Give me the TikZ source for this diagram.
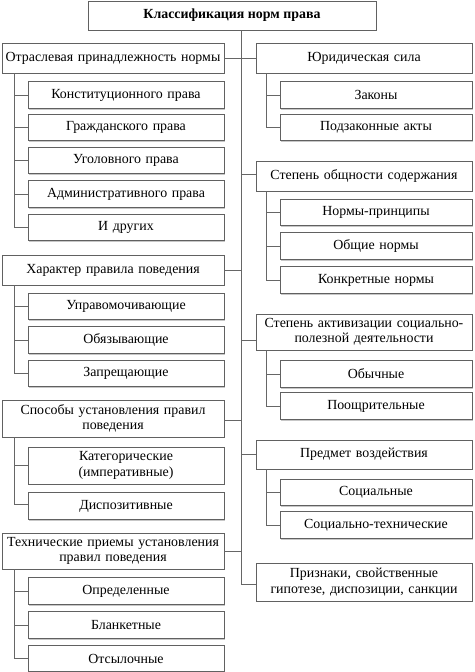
\documentclass[tikz,border=0pt]{standalone}
\usepackage{fontspec}
\setmainfont{Liberation Serif}
\usetikzlibrary{shadows,calc}
\begin{document}
\begin{tikzpicture}[x=1pt,y=1pt,
  box/.style={draw=black!62, line width=0.7pt, fill=white, text=black,
    inner sep=1pt, align=center, font=\fontsize{13.9}{15.2}\selectfont,
    drop shadow={shadow xshift=1.4pt, shadow yshift=-1.4pt, fill=black!22, opacity=1}},
  link/.style={draw=black!60, line width=0.7pt},
  lcat/.style={box, minimum width=222pt, text width=218pt},
  lch/.style={box, minimum width=196pt, text width=192pt},
  rcat/.style={box, minimum width=216pt, text width=212pt},
  rch/.style={box, minimum width=192pt, text width=188pt}]
\useasboundingbox (0,0) rectangle (474,-672);
\fill[white] (0,0) rectangle (474,-672);

\node[box, minimum width=288pt, minimum height=29pt, font=\bfseries\fontsize{13.9}{15.2}\selectfont] (top) at (232,-15.5) {Классификация норм права};

% left categories
\node[lcat, minimum height=30pt] (L1) at (113,-58) {Отраслевая принадлежность нормы};
\node[lcat, minimum height=30pt] (L2) at (113,-270) {Характер правила поведения};
\node[lcat, minimum height=37pt] (L3) at (113,-418.5) {Способы установления правил\\поведения};
\node[lcat, minimum height=36pt] (L4) at (113,-551) {Технические приемы установления\\правил поведения};

% left children
\node[lch, minimum height=26.5pt] (L11) at (126,-95) {Конституционного права};
\node[lch, minimum height=26.5pt] (L12) at (126,-127.5) {Гражданского права};
\node[lch, minimum height=26.5pt] (L13) at (126,-160.5) {Уголовного права};
\node[lch, minimum height=26.5pt] (L14) at (126,-194) {Административного права};
\node[lch, minimum height=26.5pt] (L15) at (126,-227.5) {И других};

\node[lch, minimum height=26.5pt] (L21) at (126,-306.5) {Управомочивающие};
\node[lch, minimum height=26.5pt] (L22) at (126,-340) {Обязывающие};
\node[lch, minimum height=26.5pt] (L23) at (126,-373.5) {Запрещающие};

\node[lch, minimum height=37pt] (L31) at (126,-465.5) {Категорические\\(императивные)};
\node[lch, minimum height=26.5pt] (L32) at (126,-506) {Диспозитивные};

\node[lch, minimum height=26.5pt] (L41) at (126,-591) {Определенные};
\node[lch, minimum height=26.5pt] (L42) at (126,-625) {Бланкетные};
\node[lch, minimum height=26.5pt] (L43) at (126,-658.5) {Отсылочные};

% right categories
\node[rcat, minimum height=30pt] (R1) at (364,-58) {Юридическая сила};
\node[rcat, minimum height=30pt] (R2) at (364,-176) {Степень общности содержания};
\node[rcat, minimum height=36pt] (R3) at (364,-332) {Степень активизации социально-\\полезной деятельности};
\node[rcat, minimum height=29pt] (R4) at (364,-454.5) {Предмет воздействия};
\node[rcat, minimum height=38pt] (R5) at (364,-582) {Признаки, свойственные\\гипотезе, диспозиции, санкции};

% right children
\node[rch, minimum height=26.5pt] (R11) at (376,-95) {Законы};
\node[rch, minimum height=26.5pt] (R12) at (376,-127.5) {Подзаконные акты};

\node[rch, minimum height=26.5pt] (R21) at (376,-212.5) {Нормы-принципы};
\node[rch, minimum height=26.5pt] (R22) at (376,-246) {Общие нормы};
\node[rch, minimum height=26.5pt] (R23) at (376,-280) {Конкретные нормы};

\node[rch, minimum height=26.5pt] (R31) at (376,-374) {Обычные};
\node[rch, minimum height=26.5pt] (R32) at (376,-406) {Поощрительные};

\node[rch, minimum height=26.5pt] (R41) at (376,-492.5) {Социальные};
\node[rch, minimum height=26.5pt] (R42) at (376,-525) {Социально-технические};

% trunk
\coordinate (tk) at (241,0);
\coordinate (lb) at (14,0);
\coordinate (rb) at (266,0);
\coordinate (R5c) at ([yshift=-2pt]R5.west);
\coordinate (R3c) at ([yshift=-8pt]R3.west);
\coordinate (L3c) at ([yshift=-1.5pt]L3.east);

\draw[link] (tk |- top.south) -- (tk |- R5c) -- (R5c);
\draw[link] (L1.east) -- (L1.east -| tk);
\draw[link] (L2.east) -- (L2.east -| tk);
\draw[link] (L3c) -- (L3c -| tk);
\draw[link] (L4.east) -- (L4.east -| tk);
\draw[link] (R1.west) -- (R1.west -| tk);
\draw[link] ([yshift=1.5pt]R2.west) -- ([yshift=1.5pt]R2.west -| tk);
\draw[link] (R3c) -- (R3c -| tk);
\draw[link] (R4.west) -- (R4.west -| tk);

% left brackets
\draw[link] (lb |- L1.south) |- (L15.west);
\foreach \c in {L11,L12,L13,L14} \draw[link] (\c.west) -- (\c.west -| lb);
\draw[link] (lb |- L2.south) |- (L23.west);
\foreach \c in {L21,L22} \draw[link] (\c.west) -- (\c.west -| lb);
\draw[link] (lb |- L3.south) |- ([yshift=2pt]L32.west);
\draw[link] (L31.west) -- (L31.west -| lb);
\draw[link] (lb |- L4.south) |- (L43.west);
\foreach \c in {L41,L42} \draw[link] (\c.west) -- (\c.west -| lb);

% right brackets
\draw[link] (rb |- R1.south) |- (R12.west);
\draw[link] (R11.west) -- (R11.west -| rb);
\draw[link] (rb |- R2.south) |- (R23.west);
\foreach \c in {R21,R22} \draw[link] (\c.west) -- (\c.west -| rb);
\draw[link] (rb |- R3.south) |- (R32.west);
\draw[link] (R31.west) -- (R31.west -| rb);
\draw[link] (rb |- R4.south) |- (R42.west);
\draw[link] (R41.west) -- (R41.west -| rb);
\end{tikzpicture}
\end{document}
